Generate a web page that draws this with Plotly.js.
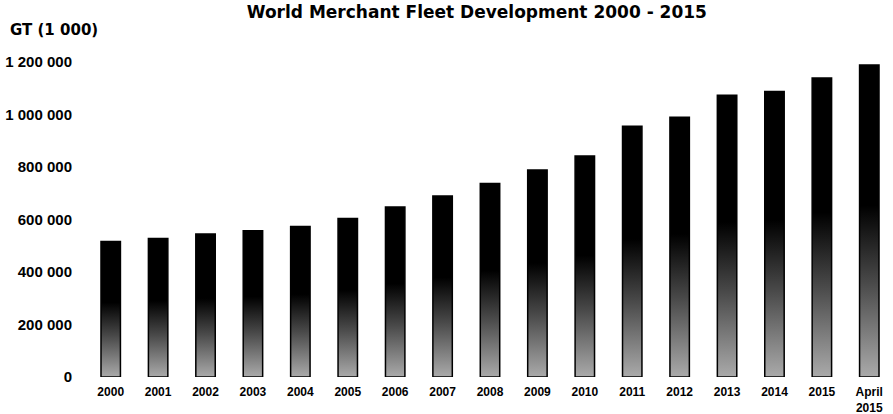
<!DOCTYPE html>
<html>
<head>
<meta charset="utf-8">
<script src="https://cdn.plot.ly/plotly-3.0.1.min.js"></script>
<style>
  html, body { margin: 0; padding: 0; background: #ffffff; }
  #chart { width: 893px; height: 414px; }
</style>
</head>
<body>
<div id="chart"></div>
<script>
// ---- data ----
var categories = ['2000', '2001', '2002', '2003', '2004', '2005', '2006', '2007', '2008',
                  '2009', '2010', '2011', '2012', '2013', '2014', '2015', 'April<br>2015'];
var fleetGT = [516000, 528000, 545000, 557000, 573000, 604000, 648000, 690000, 737000,
               789000, 842000, 955000, 990000, 1073000, 1088000, 1139000, 1189000];
var yTickValues = [0, 200000, 400000, 600000, 800000, 1000000, 1200000];
var yTickLabels = ['0', '200 000', '400 000', '600 000', '800 000', '1 000 000', '1 200 000'];
var chartTitle = 'World Merchant Fleet Development 2000 - 2015';
var unitLabel = 'GT (1 000)';

var trace = {
  type: 'bar',
  x: categories,
  y: fleetGT,
  marker: { color: '#000000', line: { color: '#000000', width: 1.5 } },
  hoverinfo: 'skip'
};

var layout = {
  width: 893,
  height: 414,
  margin: { l: 87, r: 0, t: 62, b: 37, pad: 0 },
  paper_bgcolor: '#ffffff',
  plot_bgcolor: '#ffffff',
  bargap: 0.59,
  showlegend: false,
  title: {
    text: chartTitle,
    font: { family: 'DejaVu Sans', size: 17, weight: 'bold', color: '#000000' },
    xref: 'container', x: 0.534, xanchor: 'center',
    yref: 'container', y: 0.972, yanchor: 'middle'
  },
  xaxis: {
    type: 'category',
    showgrid: false, zeroline: false, showline: false,
    ticks: '',
    ticklabelstandoff: 6,
    tickfont: { family: 'Liberation Sans', size: 12, weight: 'bold', color: '#000000' }
  },
  yaxis: {
    range: [0, 1200000],
    tickmode: 'array',
    tickvals: yTickValues,
    ticktext: yTickLabels,
    showgrid: false, zeroline: false, showline: false,
    ticks: '',
    ticklabelstandoff: 14,
    tickfont: { family: 'Liberation Sans', size: 15, weight: 'bold', color: '#000000' }
  },
  annotations: [{
    text: unitLabel,
    xref: 'paper', yref: 'paper',
    x: -0.0975, y: 1.1016,
    xanchor: 'left', yanchor: 'middle',
    showarrow: false,
    font: { family: 'DejaVu Sans', size: 15, weight: 'bold', color: '#000000' }
  }]
};

Plotly.newPlot('chart', [trace], layout, { staticPlot: true, displayModeBar: false }).then(function (gd) {
  // give the bars the black-to-grey fade seen in the reference
  var svg = gd.querySelector('svg.main-svg');
  if (!svg) return;
  var ns = 'http://www.w3.org/2000/svg';
  var defs = svg.querySelector('defs');
  if (!defs) { defs = document.createElementNS(ns, 'defs'); svg.insertBefore(defs, svg.firstChild); }
  var grad = document.createElementNS(ns, 'linearGradient');
  grad.setAttribute('id', 'barFade');
  grad.setAttribute('x1', '0'); grad.setAttribute('y1', '0');
  grad.setAttribute('x2', '0'); grad.setAttribute('y2', '1');
  [['0%', '#000000'], ['45%', '#000000'], ['70%', '#4a4a4a'], ['100%', '#aaaaaa']].forEach(function (s) {
    var st = document.createElementNS(ns, 'stop');
    st.setAttribute('offset', s[0]);
    st.setAttribute('stop-color', s[1]);
    grad.appendChild(st);
  });
  defs.appendChild(grad);
  gd.querySelectorAll('.bars .point path').forEach(function (p) {
    p.style.fill = 'url(#barFade)';
  });
});
</script>
</body>
</html>
